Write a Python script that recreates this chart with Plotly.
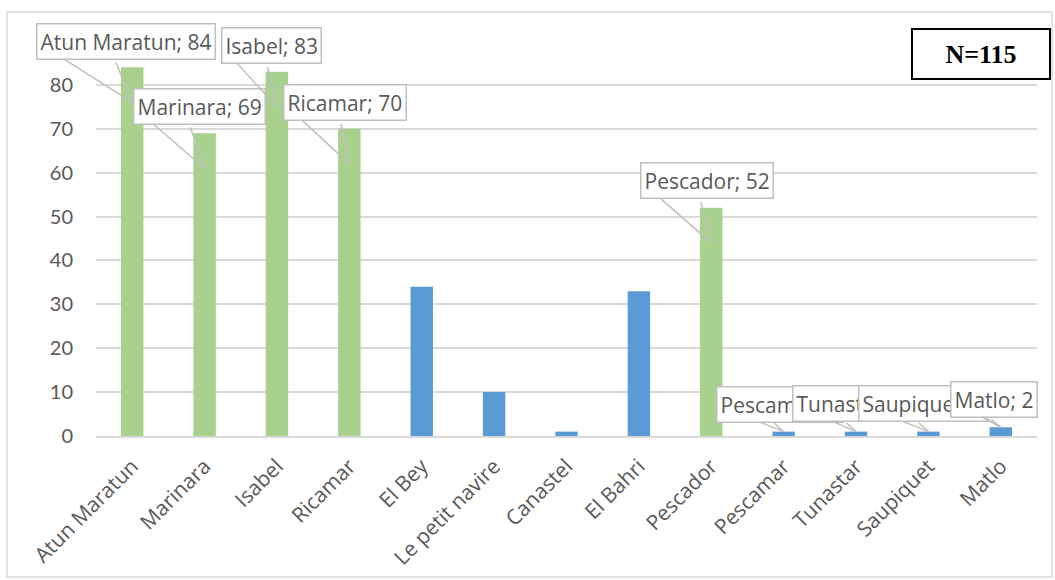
import plotly.graph_objects as go

brands = ["Atun Maratun", "Marinara", "Isabel", "Ricamar", "El Bey", "Le petit navire",
          "Canastel", "El Bahri", "Pescador", "Pescamar", "Tunastar", "Saupiquet", "Matlo"]
counts = [84, 69, 83, 70, 34, 10, 1, 33, 52, 1, 1, 1, 2]
highlighted = [True, True, True, True, False, False, False, False, True, False, False, False, False]
y_ticks = [0, 10, 20, 30, 40, 50, 60, 70, 80, 90]
sample_label = "N=115"

GREEN = "#A9D18E"
BLUE = "#5B9BD5"
TXT = "#595959"
GRID = "#D9D9D9"
CALL = "#BFBFBF"
FONT = "Open Sans, Lato, sans-serif"

fig = go.Figure(go.Bar(
    x=brands, y=counts,
    marker=dict(color=[GREEN if h else BLUE for h in highlighted], line=dict(width=0)),
    hoverinfo="x+y",
))

# callout placement in px relative to the pointer tip:
# (box left ax, box middle ay, second wedge edge ax, ay)
callouts = {
    "Atun Maratun": (-96, -61, -17, -42),
    "Marinara": (-72, -62, -15, -43),
    "Isabel": (-56, -61, -10, -42),
    "Ricamar": (-66, -61, -9, -42),
    "Pescador": (-71, -62, -11, -43),
    "Pescamar": (-68, -27, -11, -10),
    "Tunastar": (-64, -28, -11, -10),
    "Saupiquet": (-70, -28, -11, -10),
    "Matlo": (-51, -28, -11, -9),
}
wedges = []
boxes = []
for name, val in zip(brands, counts):
    if name not in callouts:
        continue
    ax, ay, wx, wy = callouts[name]
    tip = val - 8 if val > 8 else val
    wedges.append(dict(
        x=name, y=tip, xref="x", yref="y", text=" ", showarrow=True, ax=wx, ay=wy,
        arrowhead=0, arrowwidth=1.5, arrowcolor=CALL, font=dict(size=1),
    ))
    boxes.append(dict(
        x=name, y=tip, xref="x", yref="y",
        text=f"{name}; {val}", showarrow=True, ax=ax, ay=ay,
        xanchor="left", yanchor="middle",
        arrowhead=0, arrowwidth=1.5, arrowcolor=CALL,
        bgcolor="white", bordercolor=CALL, borderwidth=1.5, borderpad=3,
        font=dict(family=FONT, size=21, color=TXT),
    ))

annotations = wedges + boxes
annotations.append(dict(
    x=0.9405, y=0.967, xref="paper", yref="paper", text=f"<b>{sample_label}</b>",
    showarrow=False, xanchor="center", yanchor="middle",
    width=132, height=44, borderpad=2,
    bgcolor="white", bordercolor="black", borderwidth=2,
    font=dict(family="Liberation Serif, Times New Roman, serif", size=26, color="black"),
))

fig.update_layout(
    width=1055, height=580,
    margin=dict(l=96, r=18, t=41, b=144, autoexpand=False),
    paper_bgcolor="white", plot_bgcolor="white",
    bargap=0.69, showlegend=False,
    annotations=annotations,
    shapes=[dict(type="rect", xref="paper", yref="paper",
                 x0=(7 - 96) / 941, x1=(1052 - 96) / 941,
                 y0=(436 - 577) / 395, y1=(436 - 12) / 395,
                 line=dict(color=GRID, width=1.5), fillcolor="rgba(0,0,0,0)", layer="below")],
    xaxis=dict(tickangle=-45, tickfont=dict(family=FONT, size=21, color=TXT), automargin=False,
               range=[-0.5, len(brands) - 0.5], ticklabelstandoff=8,
               showline=True, linecolor=GRID, linewidth=1.5, ticks="", showgrid=False),
    yaxis=dict(range=[0, 90], tickvals=y_ticks, showgrid=True, gridcolor=GRID, gridwidth=1.5,
               zeroline=False, showline=False, ticks="", automargin=False,
               tickfont=dict(family="Lato, sans-serif", size=20, color=TXT), ticklabelstandoff=22),
)

fig.write_html("out.html")
